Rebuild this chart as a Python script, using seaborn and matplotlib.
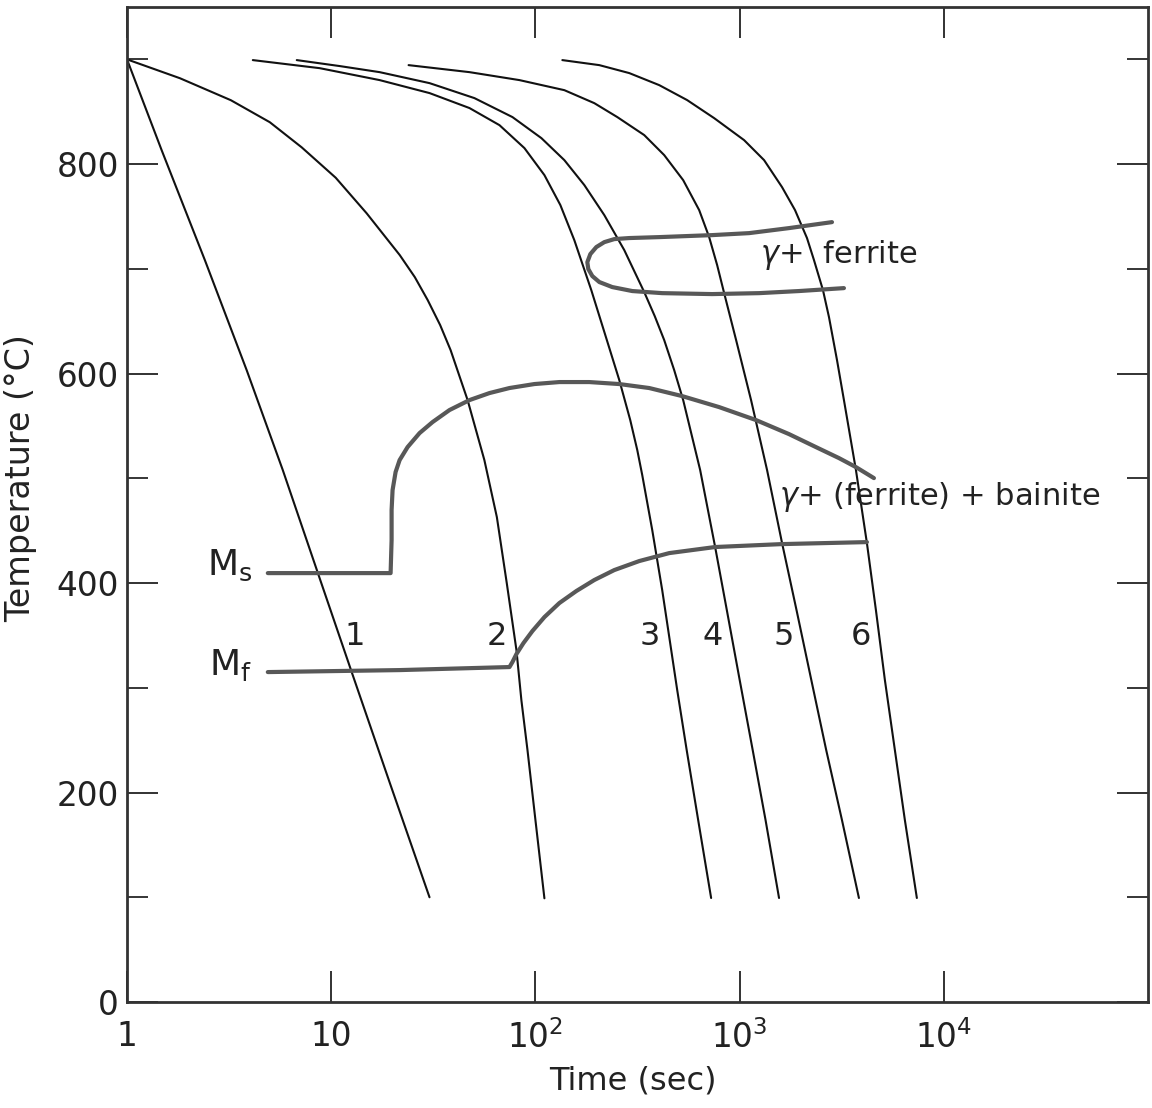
import numpy as np
import pandas as pd
import matplotlib
matplotlib.use("Agg")
import matplotlib.pyplot as plt
from matplotlib.ticker import NullLocator, FixedLocator
import seaborn as sns

# ---------------- data (time in s, temperature in degC) ----------------
c1_t = [1.0, 1.48, 2.41, 3.86, 5.79, 8.59, 12.6, 19.3, 30.3]
c1_T = [900, 813, 708, 603, 508, 410, 315, 210, 100]

c2_t = [1.0, 1.816, 3.226, 5.004, 7.17, 10.52, 14.92, 21.67, 25.67, 29.68, 34.17, 38.44,
        46.56, 56.25, 64.75, 72.4, 80.75, 85.4, 91.4, 100.0, 110.7]
c2_T = [900, 882, 861, 840, 816, 787, 753, 713.1, 692.1, 670.2, 646.3, 622.4,
        574.7, 517.4, 463.0, 400, 336, 288, 241, 174, 99]

c3_t = [4.132, 8.785, 17.27, 30.32, 47.57, 66.68, 88.35, 110.7, 132.5, 155.1, 187.8,
        219.9, 257.5, 291.4, 315.4, 333.6, 373.4, 417.8, 454.7, 494.8, 550.6, 626.8, 725.4]
c3_T = [899.3, 891.6, 880.2, 867.8, 853.5, 837.2, 815.3, 789.5, 760.9, 727.4, 679.7,
        636.8, 593.8, 555.6, 527.0, 503.1, 450.6, 393.3, 345.6, 297.9, 240.6, 173.7, 99.3]

c4_t = [6.782, 11.01, 17.27, 30.32, 50.3, 77.2, 107.0, 138.6, 173.6, 217.5, 272.4,
        341.2, 384.0, 427.3, 478.3, 529.3, 641.0, 759.0, 865.8, 1001, 1159, 1340, 1560]
c4_T = [899.3, 893.6, 887.8, 877.3, 863.0, 844.9, 824.8, 803.8, 780.0, 751.3, 717.9,
        677.8, 654.9, 632.0, 603.3, 574.7, 507.9, 434.4, 374.2, 307.4, 240.6, 173.7, 99.3]

c5_t = [23.93, 47.57, 83.53, 138.6, 194.3, 251.8, 341.2, 427.3, 529.3, 633.9, 709.4,
        776.3, 840.2, 961.4, 1138, 1363, 1614, 1900, 2245, 2655, 3172, 3840]
c5_T = [894.5, 887.8, 880.2, 870.6, 858.2, 844.9, 827.7, 808.6, 784.7, 756.1, 730.3,
        703.6, 676.8, 632.0, 574.7, 507.9, 438.2, 374.2, 307.4, 240.6, 173.7, 99.3]

c6_t = [135.5, 205.6, 288.2, 404.1, 553.7, 750.6, 1052, 1318, 1614, 1868, 2138, 2313,
        2560, 2740, 2999, 3243, 3713, 4202, 4651, 5146, 5759, 6447, 7380]
c6_T = [899.3, 894.5, 886.9, 875.4, 861.1, 843.9, 822.9, 803.8, 778.0, 756.1, 729.4, 708.4,
        679.7, 653.9, 612.9, 574.7, 507.9, 438.2, 374.2, 307.4, 240.6, 173.7, 99.3]

ms_t = [4.893, 19.54, 19.76, 19.76, 19.98, 20.67, 21.63, 23.66, 27.09, 31.36, 37.97, 47.57,
        59.59, 74.65, 98.88, 131.0, 183.7, 257.5, 360.9, 523.3, 794.0, 1204, 1746,
        2366, 3067, 3713, 4548]
ms_T = [409.5, 409.5, 441.1, 469.7, 488.8, 506.0, 517.4, 529.8, 543.2, 553.7, 565.2, 574.7,
        581.4, 586.2, 590.0, 591.9, 591.9, 590.0, 586.2, 578.5, 568.0, 555.6, 542.2,
        529.8, 519.3, 510.7, 500.2]

mf_t = [4.893, 21.63, 74.65, 77.2, 80.75, 87.4, 96.7, 110.7, 131.0, 158.7, 194.3,
        243.4, 322.5, 452.2, 759.0, 1614, 4202]
mf_T = [315.0, 316.9, 319.8, 324.6, 332.2, 342.7, 354.2, 367.5, 380.9, 392.4, 402.9,
        412.4, 421.0, 428.6, 434.4, 437.2, 439.1]

fe_t = [2834, 1746, 1113, 733.8, 404.1, 288.2, 243.4, 217.5, 198.8, 185.8, 179.6,
        181.6, 190.0, 205.6, 237.9, 298.1, 417.8, 733.8, 1246, 1954, 3243]
fe_T = [744.6, 738.9, 734.1, 732.2, 730.3, 729.4, 728.4, 725.5, 720.8, 714.1, 706.4,
        699.8, 693.1, 687.4, 682.6, 678.8, 676.8, 675.9, 676.8, 678.8, 681.6]

curve_labels = ["1", "2", "3", "4", "5", "6"]
label_t = [13.0, 64.5, 365, 734, 1651, 3928]
label_T = [349, 349, 349, 349, 349, 349]

x_ticks = [1, 10, 100, 1000, 10000]
x_ticklabels = ["1", "10", r"$\mathregular{10^2}$", r"$\mathregular{10^3}$", r"$\mathregular{10^4}$"]
y_major = [0, 200, 400, 600, 800]
y_minor = [100, 300, 500, 700, 900]

# ---------------- figure ----------------
sns.set_theme(style="white")
plt.rcParams["font.family"] = ["DejaVu Sans"]
plt.rcParams["mathtext.default"] = "regular"

fig = plt.figure(figsize=(11.52, 11.08), dpi=100)
ax = fig.add_axes([127 / 1152, 1 - 1002 / 1108, 1021 / 1152, 995 / 1108])

cool_kw = dict(color="#111111", linewidth=1.5, sort=False, estimator=None, ax=ax)
for t, T in [(c1_t, c1_T), (c2_t, c2_T), (c3_t, c3_T), (c4_t, c4_T), (c5_t, c5_T), (c6_t, c6_T)]:
    sns.lineplot(x=t, y=T, **cool_kw)

tr_kw = dict(color="#585858", linewidth=3.0, sort=False, estimator=None, ax=ax)
for t, T in [(ms_t, ms_T), (mf_t, mf_T), (fe_t, fe_T)]:
    sns.lineplot(x=t, y=T, **tr_kw)
for ln in ax.get_lines():
    ln.set_solid_joinstyle("round")
    ln.set_solid_capstyle("round")

ax.set_xscale("log")
ax.set_xlim(1, 1e5)
ax.set_ylim(0, 950)

ax.xaxis.set_major_locator(FixedLocator(x_ticks))
ax.xaxis.set_minor_locator(NullLocator())
ax.set_xticklabels(x_ticklabels)
ax.yaxis.set_major_locator(FixedLocator(y_major))
ax.yaxis.set_minor_locator(FixedLocator(y_minor))

ax.tick_params(axis="x", which="major", direction="in", length=22, width=1.3,
               top=True, bottom=True, labelsize=23.5, pad=13, colors="#222222")
ax.tick_params(axis="y", which="major", direction="in", length=22, width=1.3,
               left=True, right=True, labelsize=23.5, pad=6, colors="#222222")
ax.tick_params(axis="y", which="minor", direction="in", length=15, width=1.3,
               left=True, right=True)
for s in ax.spines.values():
    s.set_color("#333333")
    s.set_linewidth(2.0)

ax.set_xlabel("Time (sec)", fontsize=23, color="#222222")
ax.set_ylabel("Temperature (\u00b0C)", fontsize=24, color="#222222")
ax.xaxis.set_label_coords(0.495, -0.064)
ax.yaxis.set_label_coords(-0.088, 0.527)

for lab, t, T in zip(curve_labels, label_t, label_T):
    ax.text(t, T, lab, fontsize=23, ha="center", va="center", color="#222222")

ax.text(4.1, 407.5, r"M$_\mathregular{s}$", fontsize=26, ha="right", va="baseline", color="#222222")
ax.text(4.1, 312.5, r"M$_\mathregular{f}$", fontsize=26, ha="right", va="baseline", color="#222222")
ax.text(1260, 713, r"$\mathit{\gamma}$+  ferrite", fontsize=22, ha="left", va="center", color="#222222")
ax.text(1560, 482, r"$\mathit{\gamma}$+ (ferrite) + bainite", fontsize=22, ha="left", va="center", color="#222222")

fig.savefig("out.png", dpi=100)
